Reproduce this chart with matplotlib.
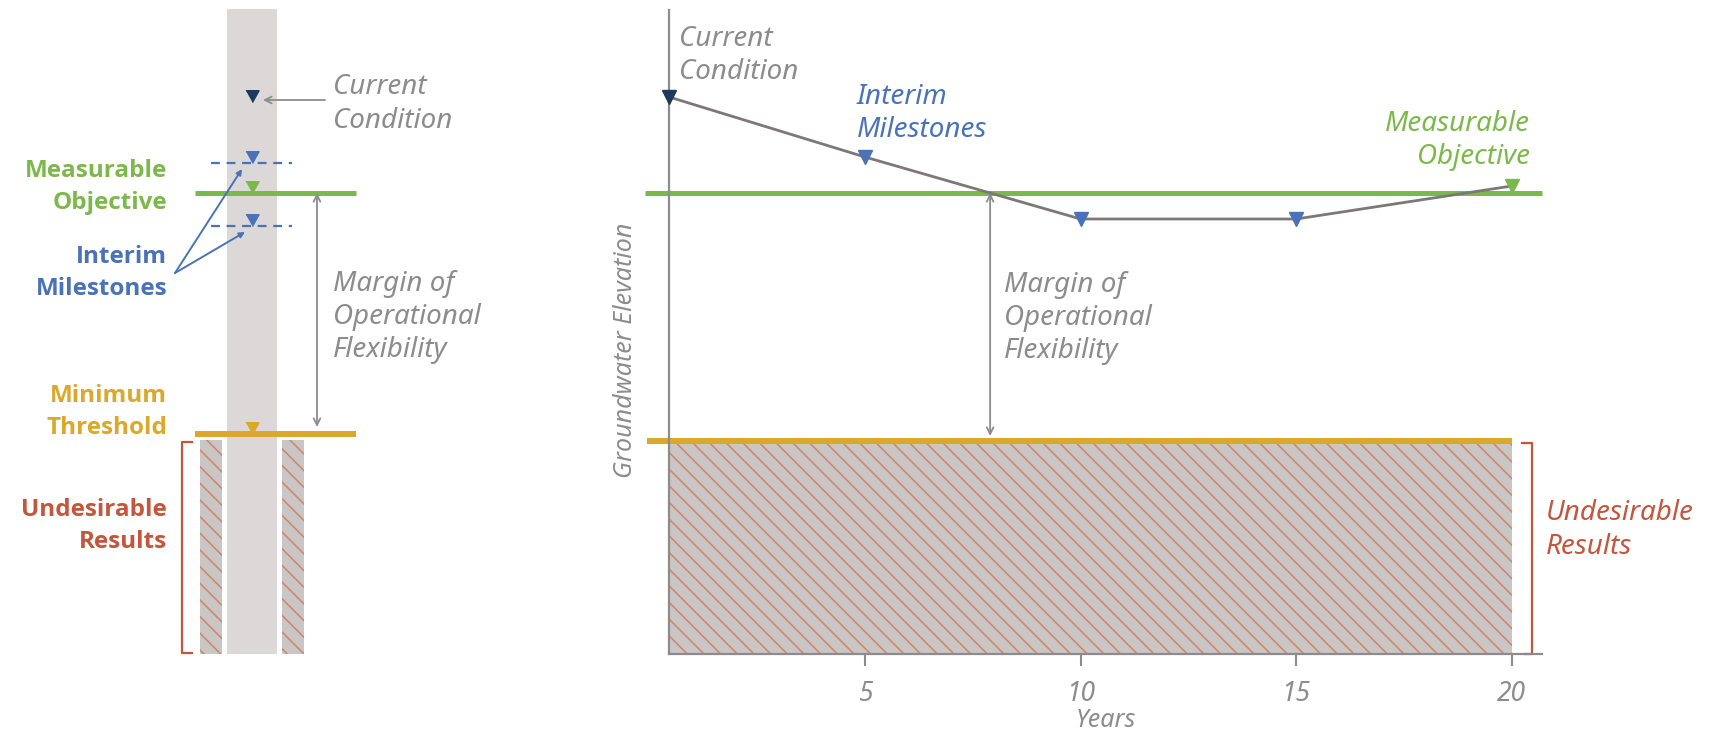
import numpy as np
import matplotlib
matplotlib.use("Agg")
import matplotlib.pyplot as plt

plt.rcParams.update(
    {
        "font.family": ["Noto Sans", "DejaVu Sans"],
        "hatch.linewidth": 1.2,
    }
)

GRAY = "#8c8c8c"
LINE = "#7d7878"
NAVY = "#1d3a5c"
BLUE = "#4a72b8"
GREEN = "#7cb94a"
YELLOW = "#dba82c"
RED = "#c4563e"
FILL = "#cbc6c6"
HATCH = "#c98a6e"
WELL = "#dcd8d7"

# right panel: elevation path over the years (0 = bottom of plot)
years = [0.46, 5, 10, 15, 20]
elevation = [55.7, 49.7, 43.5, 43.5, 46.8]
point_colors = [NAVY, BLUE, BLUE, BLUE, GREEN]
objective = 46.1
threshold = 21.3
year_ticks = [5, 10, 15, 20]

# left panel: levels in the well schematic
well_current = 55.2
well_milestones = [49.1, 42.8]
well_objective = 46.1
well_threshold = 22.0
well_top = 64.5

W, H = 1714, 732
fig = plt.figure(figsize=(W / 100, H / 100), dpi=100)

TIP = [(-1, 1.8), (1, 1.8), (0, 0)]  # down triangle with its tip on the level
ital = dict(style="italic", fontsize=20, linespacing=1.24)
bold = dict(family=["Open Sans", "Lato", "DejaVu Sans"], weight="bold", fontsize=17.5,
            linespacing=1.42, ha="right", va="center")

# ---------------- left: well schematic ----------------
axl = fig.add_axes([0, 0, 560 / W, 1])
axl.set_xlim(0, 560)
axl.set_ylim(-7.8, 65.4)
axl.axis("off")

axl.bar(252, well_top, bottom=0, width=50, color=WELL, lw=0, zorder=1)
axl.bar([211, 292.5], well_threshold - 0.6, bottom=0, width=22, facecolor=FILL,
        edgecolor=HATCH, hatch="\\\\", lw=0, zorder=1)
axl.plot([195, 356], [well_objective] * 2, color=GREEN, lw=3.6, zorder=3,
         solid_capstyle="butt")
axl.plot([195, 356], [well_threshold] * 2, color=YELLOW, lw=4.3, zorder=3,
         solid_capstyle="butt")
for lev in well_milestones:
    axl.plot([211, 292], [lev] * 2, color=BLUE, lw=1.6, ls=(0, (4, 3)), zorder=3)
    axl.plot(252, lev, marker=TIP, ms=17, color=BLUE, zorder=4, lw=0)
axl.plot(252, well_current, marker=TIP, ms=17, color=NAVY, lw=0, zorder=4)
axl.plot(252, well_objective, marker=TIP, ms=17, color=GREEN, lw=0, zorder=4)
axl.plot(252, well_threshold, marker=TIP, ms=17, color=YELLOW, lw=0, zorder=4)

axl.annotate("", xy=(263, well_current + 0.2), xytext=(325, well_current + 0.2),
             arrowprops=dict(arrowstyle="->", color=GRAY, lw=1.3, shrinkA=0,
                             shrinkB=0, mutation_scale=12))
axl.text(333, 55.0, "Current\nCondition", color=GRAY, ha="left", va="center", **ital)
axl.annotate("", xy=(317, well_threshold + 0.7), xytext=(317, well_objective),
             arrowprops=dict(arrowstyle="<->", color=GRAY, lw=1.3, shrinkA=0,
                             shrinkB=0, mutation_scale=12))
axl.text(333, 33.7, "Margin of\nOperational\nFlexibility", color=GRAY, ha="left",
         va="center", **ital)

axl.text(167, 46.7, "Measurable\nObjective", color=GREEN, **bold)
axl.text(167, 38.1, "Interim\nMilestones", color=BLUE, **bold)
axl.text(167, 24.2, "Minimum\nThreshold", color=YELLOW, **bold)
axl.text(167, 12.8, "Undesirable\nResults", color=RED, **bold)
for lev, xe in zip(well_milestones, [242, 245]):
    axl.annotate("", xy=(xe, lev - 0.6), xytext=(175, 38.1),
                 arrowprops=dict(arrowstyle="-|>", color=BLUE, lw=1.4, shrinkA=0,
                                 shrinkB=0, mutation_scale=8))
axl.plot([192, 182, 182, 192], [well_threshold - 0.8, well_threshold - 0.8, 0.1, 0.1],
         color=RED, lw=1.6)

# ---------------- right: elevation over time ----------------
ax = fig.add_axes([669 / W, (H - 654) / H, (1542 - 669) / W, (654 - 10) / H])
ax.set_xlim(0.457, 20.7)
ax.set_ylim(0, 64.4)
for s in ["top", "right"]:
    ax.spines[s].set_visible(False)
for s in ["left", "bottom"]:
    ax.spines[s].set_color(GRAY)
    ax.spines[s].set_linewidth(1.6)
    ax.spines[s].set_zorder(5)

ax.fill_between([years[0], years[-1]], 0, threshold - 0.2, facecolor=FILL,
                edgecolor=HATCH, hatch="\\\\", lw=0, zorder=1)
ax.plot([-0.05, years[-1]], [threshold] * 2, color=YELLOW, lw=4.3, clip_on=False,
        solid_capstyle="butt", zorder=3)
ax.plot([-0.1, 20.7], [objective] * 2, color=GREEN, lw=3.6, clip_on=False,
        solid_capstyle="butt", zorder=3)
ax.plot(years, elevation, color=LINE, lw=2, zorder=4, clip_on=False)
for x, y, c in zip(years, elevation, point_colors):
    ax.plot(x, y, marker="v", ms=9.5, color=c, lw=0, zorder=6, clip_on=False)

# year where the path first drops below the objective
cross = np.interp(objective, elevation[2:0:-1], years[2:0:-1])
ax.annotate("", xy=(cross, threshold + 0.5), xytext=(cross, objective),
            arrowprops=dict(arrowstyle="<->", color=GRAY, lw=1.3, shrinkA=0,
                            shrinkB=0, mutation_scale=12))

ax.annotate("Current\nCondition", xy=(years[0], elevation[0]), xytext=(7, 30),
            textcoords="offset points", color=GRAY, ha="left", va="center", **ital)
ax.annotate("Interim\nMilestones", xy=(years[1], elevation[1]), xytext=(-6, 31),
            textcoords="offset points", color=BLUE, ha="left", va="center", **ital)
ax.annotate("Measurable\nObjective", xy=(years[-1], elevation[-1]), xytext=(13, 33),
            textcoords="offset points", color=GREEN, ha="right", va="center", **ital)
ax.annotate("Margin of\nOperational\nFlexibility", xy=(cross, objective),
            xytext=(10, -90), textcoords="offset points", color=GRAY, ha="left",
            va="center", **ital)
ax.text(20.79, 12.4, "Undesirable\nResults", color=RED, ha="left", va="center",
        clip_on=False, **ital)
ax.plot([20.24, 20.47, 20.47, 20.3], [threshold - 0.2, threshold - 0.2, 0, 0],
        color=RED, lw=1.6, clip_on=False, zorder=4)

ax.set_xticks(year_ticks)
ax.set_xticklabels([str(t) for t in year_ticks], style="italic", fontsize=19, color=GRAY)
ax.set_yticks([])
ax.tick_params(axis="x", length=8.5, width=1.5, color=GRAY, pad=10)
ax.set_xlabel("Years", style="italic", fontsize=18, color=GRAY, labelpad=0)
ax.set_ylabel("Groundwater Elevation", style="italic", fontsize=18, color=GRAY)
ax.yaxis.set_label_coords(-0.036, 0.472)

fig.savefig("out.png", dpi=100)
